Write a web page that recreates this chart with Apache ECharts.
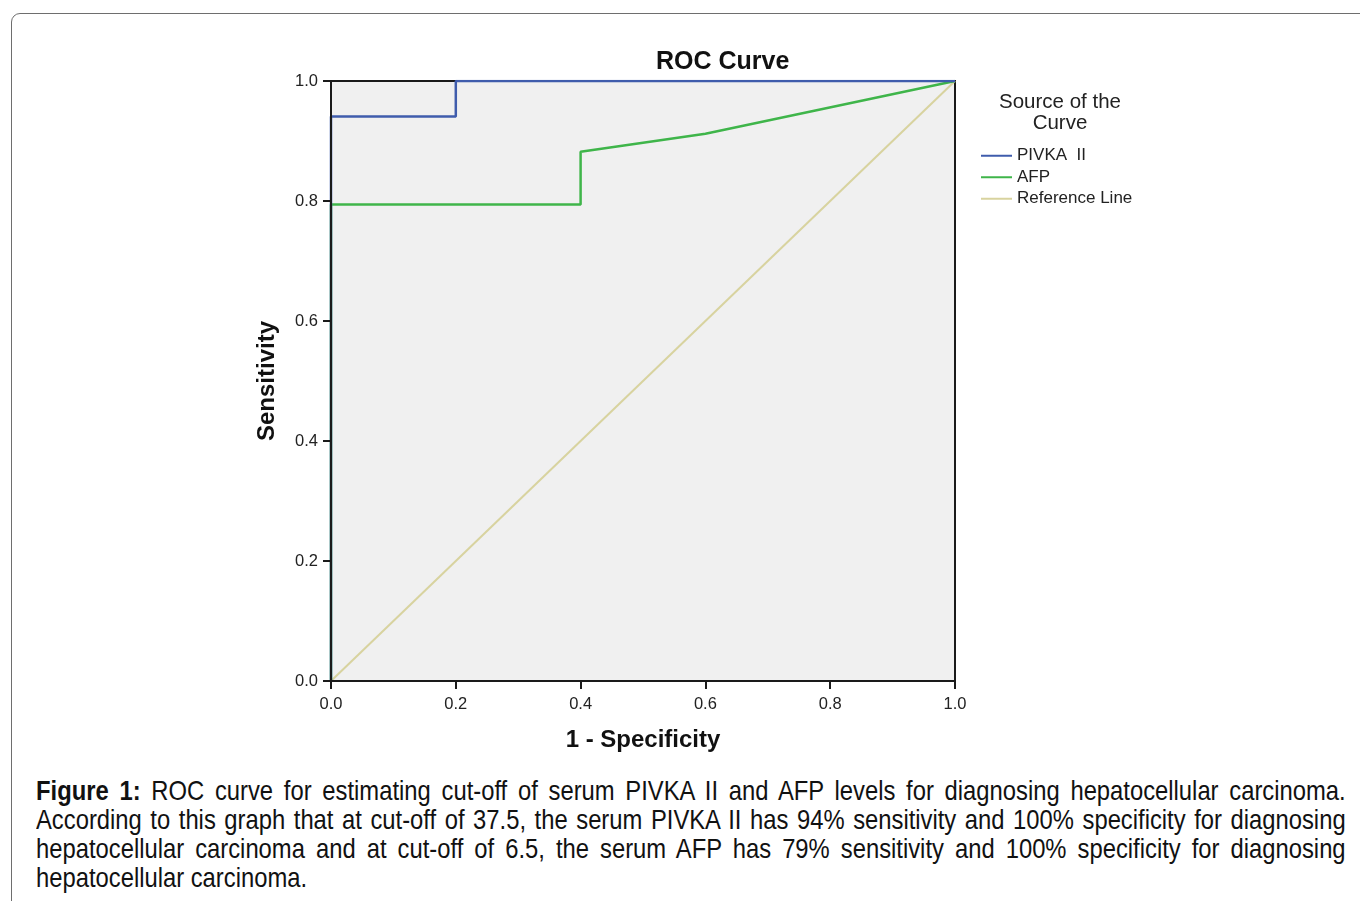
<!DOCTYPE html>
<html>
<head>
<meta charset="utf-8">
<script src="https://cdn.jsdelivr.net/npm/echarts@6/dist/echarts.min.js"></script>
<style>
html, body { margin: 0; padding: 0; background: #fff; width: 1360px; height: 901px; overflow: hidden; }
#frame {
    position: absolute; left: 11px; top: 13px; width: 1400px; height: 950px;
    border: 1.5px solid #6e6e6e; border-radius: 9px;
}
#chart_roc { position: absolute; left: 0; top: 0; width: 1360px; height: 770px; }
#caption {
    position: absolute; left: 36px; top: 776px; width: 1514px;
    transform: scaleX(0.865); transform-origin: 0 0;
    font-family: "Liberation Sans", Arial, sans-serif;
    font-size: 27.5px; line-height: 29px; color: #111;
}
#caption .ln { text-align: justify; text-align-last: justify; white-space: nowrap; }
#caption .ln.last { text-align-last: left; }
</style>
</head>
<body>
<div id="frame"></div>
<div id="chart_roc"></div>
<div id="caption">
    <div class="ln"><b>Figure 1:</b> ROC curve for estimating cut-off of serum PIVKA II and AFP levels for diagnosing hepatocellular carcinoma.</div>
    <div class="ln">According to this graph that at cut-off of 37.5, the serum PIVKA II has 94% sensitivity and 100% specificity for diagnosing</div>
    <div class="ln">hepatocellular carcinoma and at cut-off of 6.5, the serum AFP has 79% sensitivity and 100% specificity for diagnosing</div>
    <div class="ln last">hepatocellular carcinoma.</div>
</div>
<script>
// ROC points (1 - specificity, sensitivity)
const pivkaX = [0, 0, 0.2, 0.2, 1];
const pivkaY = [0, 0.941, 0.941, 1, 1];
const afpX = [0, 0, 0.4, 0.4, 0.6, 1];
const afpY = [0, 0.794, 0.794, 0.882, 0.912, 1];
const refX = [0, 1];
const refY = [0, 1];
const tickLabels = ['0.0', '0.2', '0.4', '0.6', '0.8', '1.0'];

function pairs(xs, ys) {
    return xs.map(function (x, i) { return [x, ys[i]]; });
}

let chart = echarts.init(document.getElementById('chart_roc'));
let font = '"Liberation Sans", Arial, sans-serif';
let dark = '#1a1a1a';
let axisCommon = {
    type: 'value',
    min: 0,
    max: 1,
    interval: 0.2,
    z: 5,
    nameLocation: 'middle',
    nameTextStyle: { fontFamily: font, fontSize: 24, fontWeight: 'bold', color: '#111' },
    axisLine: { show: true, lineStyle: { color: dark, width: 2 } },
    axisTick: { show: true, length: 8, lineStyle: { color: dark, width: 2 } },
    splitLine: { show: false },
    axisLabel: {
        fontFamily: font, fontSize: 16.5, color: '#222',
        formatter: function (v) { return tickLabels[Math.round(v * 5)]; }
    }
};
// top and right frame edges drawn above the curves
let frameAxis = {
    type: 'value', min: 0, max: 1, z: 5,
    axisLine: { show: true, lineStyle: { color: dark, width: 2 } },
    axisTick: { show: false }, axisLabel: { show: false }, splitLine: { show: false }
};

chart.setOption({
    animation: false,
    title: {
        text: 'ROC Curve',
        left: 651,
        top: 45,
        textStyle: { fontFamily: font, fontSize: 25, fontWeight: 'bold', color: '#111' }
    },
    grid: {
        left: 331, top: 81, width: 624, height: 600,
        show: true, backgroundColor: '#f0f0f0', borderColor: dark, borderWidth: 2
    },
    xAxis: [
        Object.assign({}, axisCommon, {
            name: '1 - Specificity',
            nameGap: 47,
            axisLabel: Object.assign({}, axisCommon.axisLabel, { margin: 15 })
        }),
        Object.assign({ position: 'top' }, frameAxis)
    ],
    yAxis: [
        Object.assign({}, axisCommon, {
            name: 'Sensitivity',
            nameGap: 52,
            axisLabel: Object.assign({}, axisCommon.axisLabel, { margin: 13 })
        }),
        Object.assign({ position: 'right' }, frameAxis)
    ],
    legend: {
        orient: 'vertical',
        left: 981,
        top: 145,
        padding: 0,
        icon: 'rect',
        itemWidth: 31,
        itemHeight: 2,
        itemGap: 0,
        textStyle: { fontFamily: font, fontSize: 17, lineHeight: 21.5, color: '#222' },
        data: ['PIVKA  II', 'AFP', 'Reference Line']
    },
    graphic: [{
        type: 'text',
        x: 1060,
        y: 92,
        style: {
            text: 'Source of the\nCurve',
            align: 'center',
            verticalAlign: 'top',
            fontFamily: font, fontSize: 20.5, lineHeight: 21, fill: '#222'
        }
    }],
    series: [
        {
            name: 'Reference Line', type: 'line', symbol: 'none',
            data: pairs(refX, refY),
            lineStyle: { color: '#d8d39f', width: 2 }, itemStyle: { color: '#d8d39f' }
        },
        {
            name: 'AFP', type: 'line', symbol: 'none',
            data: pairs(afpX, afpY),
            lineStyle: { color: '#3fb54a', width: 2.5 }, itemStyle: { color: '#3fb54a' }
        },
        {
            name: 'PIVKA  II', type: 'line', symbol: 'none',
            data: pairs(pivkaX, pivkaY),
            lineStyle: { color: '#3f5cac', width: 2.5 }, itemStyle: { color: '#3f5cac' }
        }
    ]
});
</script>
</body>
</html>
